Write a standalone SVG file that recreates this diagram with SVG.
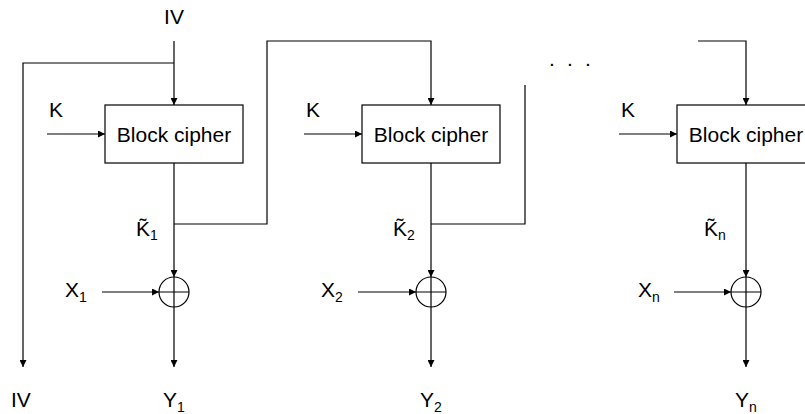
<svg xmlns="http://www.w3.org/2000/svg" width="805" height="414" viewBox="0 0 805 414">
<defs>
<marker id="ah" viewBox="0 0 10 10" refX="10" refY="5" markerWidth="7" markerHeight="7" markerUnits="userSpaceOnUse" orient="auto">
<path d="M0,0 L10,5 L0,10 Z" fill="#000"/>
</marker>
<style>
.ln{fill:none;stroke:#000;stroke-width:1.2}
.ar{fill:none;stroke:#000;stroke-width:1.2;marker-end:url(#ah)}
.box{fill:#fff;stroke:#000;stroke-width:1.2}
.t{font-family:"Liberation Sans",Arial,sans-serif;font-size:21px;fill:#000}
.s{font-family:"Liberation Sans",Arial,sans-serif;font-size:14px;fill:#000}
</style>
</defs>
<rect width="805" height="414" fill="#fff"/>
<g id="connectors">
<path class="ar" d="M174,41 V105"/>
<path class="ar" d="M174,63 H23 V367"/>
<path class="ar" d="M47,134 H105"/>
<path class="ar" d="M174,163 V277"/>
<path class="ar" d="M174,307 V367"/>
<path class="ar" d="M102,292 H159"/>
<path class="ar" d="M174,224 H267 V41 H431 V105"/>
<path class="ar" d="M304,134 H362"/>
<path class="ar" d="M431,163 V277"/>
<path class="ar" d="M431,307 V367"/>
<path class="ar" d="M358,292 H416"/>
<path class="ln" d="M431,224 H525 V85"/>
<path class="ar" d="M698,41 H746 V105"/>
<path class="ar" d="M619,134 H677"/>
<path class="ar" d="M746,163 V277"/>
<path class="ar" d="M746,307 V367"/>
<path class="ar" d="M674,292 H731"/>
</g>
<g id="bc1">
<rect class="box" x="105" y="105" width="138" height="58"/>
<text class="t" x="174" y="142" text-anchor="middle">Block cipher</text>
</g>
<g id="bc2">
<rect class="box" x="362" y="105" width="138" height="58"/>
<text class="t" x="431" y="142" text-anchor="middle">Block cipher</text>
</g>
<g id="bc3">
<rect class="box" x="677" y="105" width="138" height="58"/>
<text class="t" x="746" y="142" text-anchor="middle">Block cipher</text>
</g>
<g id="xor1">
<circle class="ln" cx="174" cy="292" r="15"/>
<path class="ln" d="M159,292 H189 M174,277 V307"/>
</g>
<g id="xor2">
<circle class="ln" cx="431" cy="292" r="15"/>
<path class="ln" d="M416,292 H446 M431,277 V307"/>
</g>
<g id="xor3">
<circle class="ln" cx="746" cy="292" r="15"/>
<path class="ln" d="M731,292 H761 M746,277 V307"/>
</g>
<g id="labels">
<text class="t" x="174" y="24" text-anchor="middle">IV</text>
<text class="t" x="11" y="407">IV</text>
<text class="t" x="49" y="117">K</text>
<text class="t" x="306" y="117">K</text>
<text class="t" x="621" y="117">K</text>
<text class="t" x="65" y="297">X<tspan class="s" dy="5">1</tspan></text>
<text class="t" x="321" y="297">X<tspan class="s" dy="5">2</tspan></text>
<text class="t" x="638" y="297">X<tspan class="s" dy="5">n</tspan></text>
<text class="t" x="163" y="407">Y<tspan class="s" dy="5">1</tspan></text>
<text class="t" x="420" y="407">Y<tspan class="s" dy="5">2</tspan></text>
<text class="t" x="735" y="407">Y<tspan class="s" dy="5">n</tspan></text>
<text class="t" x="136" y="236">K&#771;<tspan class="s" dy="4">1</tspan></text>
<text class="t" x="393" y="236">K&#771;<tspan class="s" dy="4">2</tspan></text>
<text class="t" x="704" y="236">K&#771;<tspan class="s" dy="4">n</tspan></text>
<text class="t" x="549 567 585" y="66">...</text>
</g>
</svg>
